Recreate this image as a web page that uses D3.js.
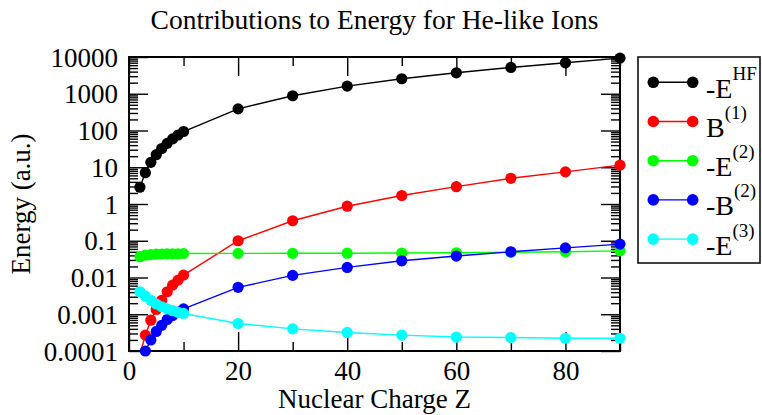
<!DOCTYPE html>
<html>
<head>
<meta charset="utf-8">
<script src="https://cdn.jsdelivr.net/npm/d3@7"></script>
<style>
  body { margin: 0; background: #fff; }
  svg { display: block; font-family: "Liberation Serif", "DejaVu Serif", serif; }
  .tick text { font-family: "Liberation Serif", serif; font-size: 27px; fill: #000; }
  .tick line { stroke: #000; stroke-width: 1.4; }
</style>
</head>
<body>
<svg id="chart"></svg>
<script>
// Nuclear charge Z of the He-like ions
const zValues = [2, 3, 4, 5, 6, 7, 8, 9, 10, 20, 30, 40, 50, 60, 70, 80, 90];

// values (a.u.)
const negEHF = [2.87, 7.1, 13.6, 22.0, 32.4, 44.7, 59.1, 75.5, 93.9, 388, 882, 1610, 2560, 3720, 5200, 6950, 9300];
const breit1 = [0.00008, 0.00027, 0.00069, 0.00135, 0.0024, 0.0041, 0.0062, 0.0085, 0.0116, 0.10, 0.35, 0.87, 1.70, 2.96, 5.0, 7.5, 11.4];
const negE2 = [0.0368, 0.0405, 0.0420, 0.0430, 0.0436, 0.0439, 0.0442, 0.0443, 0.0450, 0.0453, 0.0455, 0.0458, 0.0462, 0.0470, 0.0485, 0.0500, 0.0530];
const negB2 = [0.00005, 0.0001, 0.0002, 0.00034, 0.0005, 0.00072, 0.00092, 0.00115, 0.00140, 0.0054, 0.0114, 0.0188, 0.0285, 0.0383, 0.050, 0.064, 0.081];
const negE3 = [0.0041, 0.0031, 0.0024, 0.0019, 0.0016, 0.0014, 0.00125, 0.00113, 0.00105, 0.00056, 0.00040, 0.00032, 0.00027, 0.00024, 0.000232, 0.000222, 0.000222];

const seriesNames = ["-E|HF", "B|(1)", "-E|(2)", "-B|(2)", "-E|(3)"];
const seriesColors = ["#000000", "#ff0000", "#00ff00", "#0000ff", "#00ffff"];
const seriesValues = [negEHF, breit1, negE2, negB2, negE3];

const yTickValues = [1e-4, 1e-3, 1e-2, 1e-1, 1, 10, 100, 1000, 10000];
const yTickLabels = ["0.0001", "0.001", "0.01", "0.1", "1", "10", "100", "1000", "10000"];
const xMajorTicks = [0, 20, 40, 60, 80];
const xMinorTicks = [10, 30, 50, 70, 90];

const chartTitle = "Contributions to Energy for He-like Ions";
const xTitle = "Nuclear Charge Z";
const yTitle = "Energy (a.u.)";

class EnergyChart {
  constructor(_config) {
    this.config = {
      parentElement: _config.parentElement,
      containerWidth: _config.containerWidth || 762,
      containerHeight: _config.containerHeight || 415,
      margin: _config.margin || {top: 57, right: 142, bottom: 64, left: 129}
    };
    this.initVis();
  }

  initVis() {
    let vis = this;
    vis.width = vis.config.containerWidth - vis.config.margin.left - vis.config.margin.right;
    vis.height = vis.config.containerHeight - vis.config.margin.top - vis.config.margin.bottom;

    vis.xScale = d3.scaleLinear().domain([0, 90]).range([0, vis.width]);
    vis.yScale = d3.scaleLog().domain([1e-4, 1e4]).range([vis.height, 0]);

    // log minor ticks 2..9 per decade
    vis.yMinor = [];
    for (let k = -4; k < 4; k++) {
      for (let m = 2; m <= 9; m++) vis.yMinor.push(m * Math.pow(10, k));
    }

    vis.svg = d3.select(vis.config.parentElement)
        .attr('width', vis.config.containerWidth)
        .attr('height', vis.config.containerHeight);

    vis.chart = vis.svg.append('g')
        .attr('transform', `translate(${vis.config.margin.left},${vis.config.margin.top})`);

    vis.chart.append('clipPath').attr('id', 'plot-clip')
      .append('rect').attr('width', vis.width).attr('height', vis.height);

    // title and axis titles
    vis.svg.append('text')
        .attr('x', vis.config.margin.left + vis.width / 2)
        .attr('y', 29)
        .attr('text-anchor', 'middle')
        .style('font-size', '27.5px')
        .text(chartTitle);

    vis.svg.append('text')
        .attr('x', vis.config.margin.left + vis.width / 2)
        .attr('y', 408)
        .attr('text-anchor', 'middle')
        .style('font-size', '27px')
        .text(xTitle);

    vis.svg.append('text')
        .attr('transform', `translate(30,${vis.config.margin.top + vis.height / 2}) rotate(-90)`)
        .attr('text-anchor', 'middle')
        .style('font-size', '27px')
        .text(yTitle);

    vis.renderVis();
  }

  renderVis() {
    let vis = this;
    const major = 19, minor = 9;

    // bottom
    vis.chart.append('g').attr('class', 'x-axis').attr('transform', `translate(0,${vis.height})`)
        .call(d3.axisBottom(vis.xScale).tickValues(xMajorTicks).tickSize(-major).tickPadding(10).tickFormat(d3.format('d')));
    vis.chart.append('g').attr('transform', `translate(0,${vis.height})`)
        .call(d3.axisBottom(vis.xScale).tickValues(xMinorTicks).tickSize(-minor).tickFormat(''));
    // top
    vis.chart.append('g')
        .call(d3.axisTop(vis.xScale).tickValues(xMajorTicks).tickSize(-major).tickFormat(''));
    vis.chart.append('g')
        .call(d3.axisTop(vis.xScale).tickValues(xMinorTicks).tickSize(-minor).tickFormat(''));
    // left
    vis.chart.append('g').attr('class', 'y-axis')
        .call(d3.axisLeft(vis.yScale).tickValues(yTickValues).tickSize(-major).tickPadding(11)
          .tickFormat((d, i) => yTickLabels[i]));
    vis.chart.append('g')
        .call(d3.axisLeft(vis.yScale).tickValues(vis.yMinor).tickSize(-minor).tickFormat(''));
    // right
    vis.chart.append('g').attr('transform', `translate(${vis.width},0)`)
        .call(d3.axisRight(vis.yScale).tickValues(yTickValues).tickSize(-major).tickFormat(''));
    vis.chart.append('g').attr('transform', `translate(${vis.width},0)`)
        .call(d3.axisRight(vis.yScale).tickValues(vis.yMinor).tickSize(-minor).tickFormat(''));

    vis.chart.selectAll('.domain').remove();
    vis.chart.selectAll('.x-axis .tick text').attr('dy', '0.72em');
    vis.chart.selectAll('.y-axis .tick text').attr('dy', '0.34em');

    // frame
    vis.chart.append('rect')
        .attr('width', vis.width).attr('height', vis.height)
        .attr('fill', 'none').attr('stroke', '#000').attr('stroke-width', 2);

    const line = d3.line()
        .x(d => vis.xScale(d[0]))
        .y(d => vis.yScale(d[1]));

    seriesValues.forEach((vals, s) => {
      const pts = zValues.map((z, i) => [z, vals[i]]);
      vis.chart.append('path')
          .datum(pts)
          .attr('clip-path', 'url(#plot-clip)')
          .attr('fill', 'none')
          .attr('stroke', seriesColors[s])
          .attr('stroke-width', 1.4)
          .attr('d', line);
      vis.chart.selectAll(null)
          .data(pts.filter(d => d[1] >= 1e-4 * 0.98))
        .join('circle')
          .attr('cx', d => vis.xScale(d[0]))
          .attr('cy', d => vis.yScale(d[1]))
          .attr('r', 5.6)
          .attr('fill', seriesColors[s]);
    });

    // legend
    const lg = vis.svg.append('g');
    lg.append('rect')
        .attr('x', 638).attr('y', 57).attr('width', 122).attr('height', 206)
        .attr('fill', '#fff').attr('stroke', '#000').attr('stroke-width', 1.5);
    seriesNames.forEach((name, s) => {
      const y = 82.3 + s * 39.2;
      const [base, sup] = name.split('|');
      lg.append('line').attr('x1', 653.3).attr('x2', 692.7).attr('y1', y).attr('y2', y)
          .attr('stroke', seriesColors[s]).attr('stroke-width', 1.4);
      [653.3, 692.7].forEach(cx => lg.append('circle').attr('cx', cx).attr('cy', y).attr('r', 5.8)
          .attr('fill', seriesColors[s]));
      const t = lg.append('text').attr('x', 706).attr('y', y + 15.5).style('font-size', '28px');
      t.append('tspan').text(base);
      t.append('tspan').attr('dy', -18).style('font-size', '19px').text(sup);
    });
  }
}

new EnergyChart({parentElement: '#chart'});
</script>
</body>
</html>
